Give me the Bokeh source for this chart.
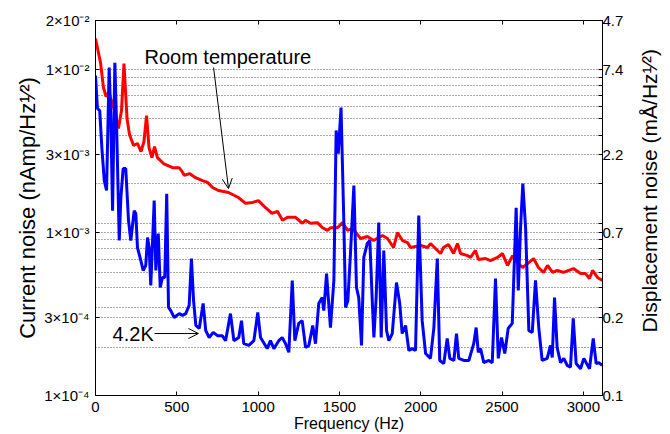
import math
from bokeh.plotting import figure
from bokeh.layouts import row
from bokeh.models import Range1d, LogAxis, LinearAxis, FixedTicker, Arrow, OpenHead, Label
from bokeh.core.properties import value
from bokeh.embed import file_html
from bokeh.resources import INLINE

FONT = "Liberation Sans"

# ---------------- data ----------------
red_freq = [0, 31, 49, 65, 80, 98, 117, 141, 160, 175,
            194, 209, 234, 258, 280, 298, 314, 329, 347, 363,
            381, 418, 474, 514, 532, 547, 578, 615, 658, 689,
            720, 756, 818, 879, 923, 966, 1002, 1046, 1085, 1119,
            1150, 1181, 1230, 1273, 1292, 1322, 1365, 1396, 1427, 1445,
            1488, 1519, 1550, 1581, 1630, 1673, 1710, 1765, 1796, 1833,
            1857, 1888, 1919, 1937, 1999, 2042, 2060, 2091, 2122, 2140,
            2171, 2202, 2226, 2245, 2288, 2306, 2337, 2355, 2399, 2429,
            2472, 2503, 2534, 2565, 2595, 2626, 2657, 2694, 2724, 2755,
            2780, 2811, 2841, 2878, 2940, 2983, 3014, 3038, 3057, 3087,
            3118]
red_noise = [1.55e-2, 1.10e-2, 7.76e-3, 6.82e-3, 7.23e-3, 6.45e-3, 5.60e-3, 4.35e-3, 5.60e-3, 1.09e-2,
             5.00e-3, 3.99e-3, 3.42e-3, 3.52e-3, 3.14e-3, 3.62e-3, 5.22e-3, 3.32e-3, 2.88e-3, 3.37e-3,
             2.88e-3, 2.65e-3, 2.50e-3, 2.50e-3, 2.37e-3, 2.24e-3, 2.30e-3, 2.17e-3, 2.08e-3, 2.03e-3,
             1.89e-3, 1.81e-3, 1.76e-3, 1.64e-3, 1.51e-3, 1.53e-3, 1.57e-3, 1.42e-3, 1.31e-3, 1.35e-3,
             1.19e-3, 1.24e-3, 1.24e-3, 1.14e-3, 1.19e-3, 1.14e-3, 1.15e-3, 1.07e-3, 1.03e-3, 1.07e-3,
             1.07e-3, 1.15e-3, 1.03e-3, 1.06e-3, 9.19e-4, 9.45e-4, 8.93e-4, 9.59e-4, 9.19e-4, 8.09e-4,
             1.0e-3, 8.93e-4, 8.68e-4, 8.09e-4, 8.32e-4, 8.09e-4, 8.56e-4, 7.98e-4, 7.43e-4, 8.09e-4,
             8.44e-4, 7.43e-4, 8.56e-4, 7.43e-4, 7.22e-4, 7.03e-4, 7.76e-4, 6.83e-4, 6.92e-4, 6.73e-4,
             7.03e-4, 7.43e-4, 6.28e-4, 7.22e-4, 6.55e-4, 6.10e-4, 6.45e-4, 6.92e-4, 6.10e-4, 5.69e-4,
             6.28e-4, 5.69e-4, 5.85e-4, 5.69e-4, 6.01e-4, 5.60e-4, 5.60e-4, 5.22e-4, 5.85e-4, 5.30e-4,
             5.08e-4]

blue_freq = [0, 12, 26, 39, 54, 68, 84, 94, 105, 119,
             129, 146, 156, 170, 186, 203, 217, 238, 248, 258,
             279, 293, 309, 320, 330, 340, 361, 371, 386, 398,
             412, 426, 438, 449, 463, 484, 515, 535, 555, 576,
             590, 603, 617, 638, 662, 678, 699, 724, 750, 779,
             800, 830, 851, 881, 898, 912, 943, 974, 998, 1015,
             1056, 1076, 1097, 1127, 1148, 1169, 1189, 1210, 1226, 1250,
             1271, 1292, 1312, 1336, 1353, 1373, 1394, 1404, 1421, 1445,
             1466, 1480, 1493, 1510, 1527, 1538, 1552, 1568, 1589, 1605,
             1619, 1636, 1650, 1671, 1687, 1702, 1712, 1726, 1742, 1757,
             1773, 1790, 1804, 1825, 1851, 1871, 1886, 1907, 1927, 1948,
             1968, 1988, 2009, 2030, 2060, 2081, 2102, 2117, 2142, 2163,
             2179, 2204, 2220, 2234, 2265, 2296, 2326, 2341, 2354, 2368,
             2388, 2419, 2440, 2460, 2477, 2497, 2517, 2538, 2563, 2587,
             2600, 2614, 2628, 2645, 2665, 2686, 2706, 2726, 2747, 2778,
             2798, 2809, 2823, 2839, 2860, 2880, 2901, 2921, 2938, 2956,
             2983, 3003, 3038, 3061, 3079, 3095, 3116]
blue_noise = [9.18e-3, 5.77e-3, 5.60e-3, 3.32e-3, 2.08e-3, 1.81e-3, 1.03e-2, 5.08e-3, 1.36e-3, 1.10e-2,
              4.87e-3, 8.93e-4, 1.64e-3, 2.47e-3, 2.47e-3, 1.19e-3, 8.93e-4, 1.36e-3, 1.31e-3, 8.09e-4,
              6.73e-4, 5.85e-4, 6.28e-4, 9.31e-4, 8.09e-4, 4.73e-4, 1.57e-3, 5.85e-4, 9.86e-4, 4.60e-4,
              5.30e-4, 5.30e-4, 1.73e-3, 3.47e-4, 3.32e-4, 3.01e-4, 3.18e-4, 3.10e-4, 3.18e-4, 3.57e-4,
              6.92e-4, 3.83e-4, 2.69e-4, 2.58e-4, 3.67e-4, 2.50e-4, 2.27e-4, 2.44e-4, 2.33e-4, 2.33e-4,
              2.17e-4, 3.18e-4, 2.17e-4, 2.27e-4, 2.88e-4, 2.08e-4, 2.03e-4, 2.17e-4, 3.23e-4, 2.27e-4,
              1.94e-4, 2.17e-4, 1.94e-4, 2.17e-4, 2.27e-4, 2.08e-4, 1.84e-4, 5.08e-4, 2.17e-4, 2.77e-4,
              2.88e-4, 1.97e-4, 2.03e-4, 2.69e-4, 2.08e-4, 3.67e-4, 3.99e-4, 3.32e-4, 5.60e-4, 2.61e-4,
              5.08e-4, 4.23e-3, 3.05e-3, 5.85e-3, 1.19e-3, 3.47e-4, 3.83e-4, 7.43e-4, 1.94e-3, 4.60e-4,
              3.99e-4, 2.03e-4, 7.03e-4, 8.56e-4, 8.93e-4, 3.83e-4, 2.27e-4, 3.99e-4, 1.15e-3, 2.27e-4,
              7.76e-4, 2.50e-4, 2.17e-4, 2.40e-4, 4.93e-4, 3.67e-4, 2.40e-4, 2.69e-4, 1.89e-4, 1.94e-4,
              1.89e-4, 1.27e-3, 2.88e-4, 1.81e-4, 1.69e-4, 2.61e-4, 6.92e-4, 1.64e-4, 1.57e-4, 2.24e-4,
              1.69e-4, 1.64e-4, 2.40e-4, 1.69e-4, 1.64e-4, 1.64e-4, 2.08e-4, 2.61e-4, 1.84e-4, 1.94e-4,
              1.59e-4, 1.64e-4, 1.59e-4, 5.22e-4, 1.69e-4, 2.27e-4, 1.81e-4, 2.58e-4, 2.77e-4, 1.42e-3,
              4.41e-4, 1.07e-3, 2.00e-3, 1.07e-3, 2.50e-4, 2.44e-4, 5.08e-4, 2.61e-4, 1.64e-4, 1.69e-4,
              2.03e-4, 1.71e-4, 3.99e-4, 1.97e-4, 1.59e-4, 1.69e-4, 1.53e-4, 1.49e-4, 2.97e-4, 1.57e-4,
              1.46e-4, 1.69e-4, 1.46e-4, 2.24e-4, 1.57e-4, 1.59e-4, 1.53e-4]

x_ticks = [0, 500, 1000, 1500, 2000, 2500, 3000]
y_ticks = [1e-4, 3e-4, 1e-3, 3e-3, 1e-2, 2e-2]
y_tick_labels = ["1×10⁻⁴", "3×10⁻⁴", "1×10⁻³", "3×10⁻³", "1×10⁻²", "2×10⁻²"]
right_tick_labels = ["0.1", "0.2", "0.7", "2.2", "7.4", "4.7"]
right_minor_ticks = [8.93e-3, 7.98e-3, 6.93e-3, 5.93e-3, 5.0e-3, 3.94e-3, 2.0e-3,
                     1.14e-3, 9.06e-4, 7.98e-4, 6.83e-4, 5.68e-4, 4.6e-4, 3.47e-4, 1.97e-4]
right_label = "Displacement noise (mÅ/Hz¹⁄²)"

# annotation anchors (data units)
room_text_xy = (301, 1.20e-2)
room_arrow = (726, 1.03e-2, 818, 1.86e-3)
k42_text_xy = (105, 2.37e-4)
k42_arrow = (363, 2.40e-4, 633, 2.40e-4)

# ---------------- main figure ----------------
p = figure(width=634, height=434,
           x_range=Range1d(0, 3118), y_range=Range1d(1e-4, 2e-2),
           y_axis_type="log", output_backend="svg", toolbar_location=None,
           min_border_left=95, min_border_right=32, min_border_top=20, min_border_bottom=39)
p.outline_line_color = "black"
p.outline_line_width = 1
p.background_fill_color = "white"
p.border_fill_color = "white"

p.xgrid.visible = False
p.ygrid.ticker = FixedTicker(ticks=[v for v in y_ticks[1:-1]] + right_minor_ticks)
p.ygrid.grid_line_dash = "1 2"
p.ygrid.grid_line_color = "#555555"
p.ygrid.grid_line_width = 1

def style_axis(ax, font_size="15px"):
    ax.axis_line_color = "black"
    ax.major_tick_line_color = "black"
    ax.minor_tick_line_color = "black"
    ax.major_tick_in = 4
    ax.major_tick_out = 0
    ax.minor_tick_in = 0
    ax.minor_tick_out = 0
    ax.major_label_text_font = FONT
    ax.major_label_text_font_size = font_size
    ax.major_label_text_color = "black"
    ax.axis_label_text_font = FONT
    ax.axis_label_text_font_style = "normal"
    ax.axis_label_text_color = "black"

# bottom axis
xa = p.xaxis[0]
style_axis(xa)
xa.ticker = FixedTicker(ticks=x_ticks)
xa.major_label_standoff = 6
xa.axis_label = "Frequency (Hz)"
xa.axis_label_text_font_size = "16px"
xa.axis_label_standoff = 0

# left axis
ya = p.yaxis[0]
style_axis(ya)
ya.ticker = FixedTicker(ticks=y_ticks)
ya.major_label_overrides = {t: l for t, l in zip(y_ticks, y_tick_labels)}
ya.major_label_standoff = 6
ya.axis_label = "Current noise (nAmp/Hz¹⁄²)"
ya.axis_label_text_font_size = "22px"
ya.axis_label_standoff = 1

# top axis (ticks only)
top = LinearAxis(ticker=FixedTicker(ticks=x_ticks))
style_axis(top, "1px")
top.major_label_standoff = 0
top.major_label_text_color = None
p.add_layout(top, "above")

# right axis (its title is drawn in a narrow companion panel so it reads bottom-to-top)
ra = LogAxis(ticker=FixedTicker(ticks=y_ticks, minor_ticks=right_minor_ticks))
style_axis(ra)
ra.minor_tick_in = 4
ra.major_label_overrides = {t: l for t, l in zip(y_ticks, right_tick_labels)}
ra.major_label_standoff = 0
p.add_layout(ra, "right")

# curves
p.line(red_freq, red_noise, line_color="#ff0000", line_width=3)
p.line(blue_freq, blue_noise, line_color="#0000ff", line_width=3)

# annotations
p.add_layout(Label(x=room_text_xy[0], y=room_text_xy[1], text="Room temperature",
                   text_font=FONT, text_font_size="20px", text_baseline="alphabetic",
                   text_color="black"))
p.add_layout(Arrow(x_start=room_arrow[0], y_start=room_arrow[1],
                   x_end=room_arrow[2], y_end=room_arrow[3],
                   line_color="black", line_width=1,
                   end=OpenHead(size=10, line_color="black", line_width=1)))
p.add_layout(Label(x=k42_text_xy[0], y=k42_text_xy[1], text="4.2K",
                   text_font=FONT, text_font_size="20px", text_baseline="alphabetic",
                   text_color="black"))
p.add_layout(Arrow(x_start=k42_arrow[0], y_start=k42_arrow[1],
                   x_end=k42_arrow[2], y_end=k42_arrow[3],
                   line_color="black", line_width=1,
                   end=OpenHead(size=10, line_color="black", line_width=1)))

# ---------------- companion panel for the right axis title ----------------
q = figure(width=36, height=434, x_range=Range1d(0, 1), y_range=Range1d(0, 1),
           output_backend="svg", toolbar_location=None,
           min_border_left=0, min_border_right=0, min_border_top=0, min_border_bottom=0)
q.axis.visible = False
q.grid.visible = False
q.outline_line_color = None
q.background_fill_color = "white"
q.border_fill_color = "white"
q.text(x=[0.42], y=[0.546], text=[right_label], angle=math.pi / 2,
       text_align="center", text_baseline="middle",
       text_font=value(FONT), text_font_size="21px", text_color="black")

layout = row(p, q, spacing=0)
open("out.html", "w").write(file_html(layout, INLINE))
